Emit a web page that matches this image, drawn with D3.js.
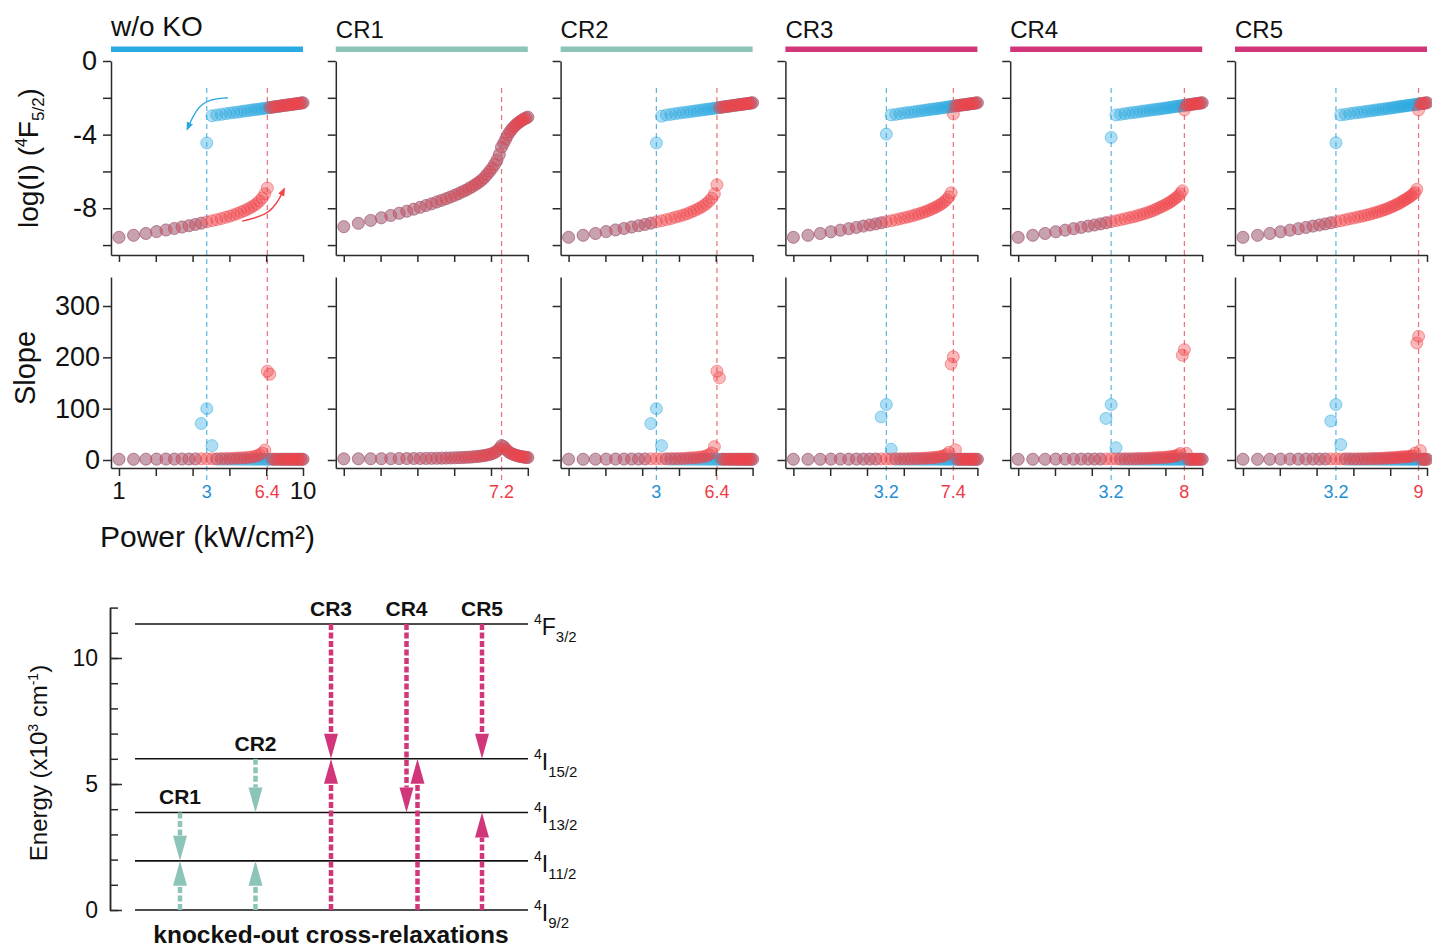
<!DOCTYPE html>
<html>
<head>
<meta charset="utf-8">
<script src="https://cdn.jsdelivr.net/npm/d3@7"></script>
<style>
  body { margin: 0; background: #fff; }
  svg { display: block; font-family: "Liberation Sans", Arial, Helvetica, sans-serif; }
</style>
</head>
<body>
<svg id="chart" width="1432" height="948"></svg>
<script>
// ---- data -------------------------------------------------------------

// excitation power (kW/cm2) of every sweep step
const power = [1, 1.2, 1.4, 1.6, 1.8, 2, 2.2, 2.4, 2.6, 2.8, 3, 3.2, 3.4, 3.6, 3.8, 4, 4.2, 4.4, 4.6, 4.8,
  5, 5.2, 5.4, 5.6, 5.8, 6, 6.2, 6.4, 6.6, 6.8, 7, 7.2, 7.4, 7.6, 7.8, 8, 8.2, 8.4, 8.6, 8.8,
  9, 9.2, 9.4, 9.6, 9.8, 10];
const powerTicks = [1, 1.585, 2.512, 3.981, 6.31, 10];

const panelNames = ["w/o KO", "CR1", "CR2", "CR3", "CR4", "CR5"];
const downThresholds = [3, null, 3, 3.2, 3.2, 3.2];
const upThresholds = [6.4, 7.2, 6.4, 7.4, 8, 9];

const logTicks = [0, -2, -4, -6, -8, -10];
const logTickLabels = [0, -4, -8];
const slopeTicks = [0, 100, 200, 300];

// log(I) of 4F5/2, forward (up) and backward (down) sweeps
const woKO_logUp = [-9.58, -9.47, -9.37, -9.27, -9.18, -9.10, -9.02, -8.95, -8.88, -8.81,
  -8.74, -8.68, -8.62, -8.56, -8.49, -8.43, -8.36, -8.29, -8.21, -8.13,
  -8.05, -7.96, -7.86, -7.75, -7.61, -7.44, -7.22, -6.90,
  -2.53, -2.51, -2.49, -2.47, -2.46, -2.44, -2.42, -2.41, -2.39, -2.38,
  -2.37, -2.35, -2.34, -2.32, -2.31, -2.30, -2.28, -2.27];
const woKO_logDown = [-9.58, -9.47, -9.37, -9.27, -9.18, -9.10, -9.02, -8.95, -8.88, -8.81,
  -4.45, -2.98,
  -2.93, -2.90, -2.86, -2.83, -2.80, -2.78, -2.75, -2.72,
  -2.70, -2.67, -2.65, -2.63, -2.61, -2.59, -2.57, -2.55, -2.53, -2.51,
  -2.49, -2.47, -2.46, -2.44, -2.42, -2.41, -2.39, -2.38, -2.37, -2.35,
  -2.34, -2.32, -2.31, -2.30, -2.28, -2.27];

// CR1 has no hysteresis: both sweeps follow the same curve
const cr1_log = [-9.00, -8.82, -8.66, -8.52, -8.39, -8.27, -8.16, -8.05, -7.95, -7.85,
  -7.76, -7.66, -7.57, -7.48, -7.39, -7.30, -7.21, -7.11, -7.02, -6.92,
  -6.82, -6.71, -6.60, -6.48, -6.34, -6.17, -6.00, -5.82, -5.62, -5.38,
  -5.08, -4.68, -4.46, -4.23, -4.01, -3.84, -3.70, -3.58, -3.48, -3.39,
  -3.32, -3.25, -3.19, -3.14, -3.09, -3.05];

const cr2_logUp = [-9.58, -9.47, -9.37, -9.27, -9.18, -9.10, -9.02, -8.95, -8.88, -8.81,
  -8.74, -8.68, -8.62, -8.56, -8.49, -8.43, -8.37, -8.30, -8.22, -8.14,
  -8.06, -7.97, -7.87, -7.76, -7.62, -7.45, -7.22, -6.72,
  -2.53, -2.51, -2.49, -2.47, -2.46, -2.44, -2.42, -2.41, -2.39, -2.38,
  -2.37, -2.35, -2.34, -2.32, -2.31, -2.30, -2.28, -2.27];
const cr2_logDown = [-9.58, -9.47, -9.37, -9.27, -9.18, -9.10, -9.02, -8.95, -8.88, -8.81,
  -4.45, -3.00,
  -2.93, -2.90, -2.86, -2.83, -2.80, -2.78, -2.75, -2.72,
  -2.70, -2.67, -2.65, -2.63, -2.61, -2.59, -2.57, -2.55, -2.53, -2.51,
  -2.49, -2.47, -2.46, -2.44, -2.42, -2.41, -2.39, -2.38, -2.37, -2.35,
  -2.34, -2.32, -2.31, -2.30, -2.28, -2.27];

const cr3_logUp = [-9.58, -9.47, -9.37, -9.28, -9.19, -9.11, -9.04, -8.97, -8.91, -8.85,
  -8.79, -8.73, -8.68, -8.63, -8.57, -8.52, -8.47, -8.42, -8.36, -8.31,
  -8.25, -8.19, -8.13, -8.06, -7.99, -7.92, -7.84, -7.75, -7.65, -7.53,
  -7.38, -7.16, -2.88,
  -2.44, -2.42, -2.41, -2.39, -2.38, -2.37, -2.35, -2.34, -2.32, -2.31, -2.30, -2.28, -2.27];
const cr3_logDown = [-9.58, -9.47, -9.37, -9.28, -9.19, -9.11, -9.04, -8.97, -8.91, -8.85,
  -8.79, -3.97,
  -2.93, -2.90, -2.86, -2.83, -2.80, -2.78, -2.75, -2.72,
  -2.70, -2.67, -2.65, -2.63, -2.61, -2.59, -2.57, -2.55, -2.53, -2.51,
  -2.49, -2.47, -2.46, -2.44, -2.42, -2.41, -2.39, -2.38, -2.37, -2.35,
  -2.34, -2.32, -2.31, -2.30, -2.28, -2.27];

const cr4_logUp = [-9.58, -9.47, -9.37, -9.28, -9.19, -9.11, -9.04, -8.97, -8.91, -8.85,
  -8.79, -8.73, -8.68, -8.63, -8.57,
  -8.52, -8.47, -8.42, -8.36, -8.31, -8.25, -8.19, -8.13, -8.06, -7.99,
  -7.92, -7.85, -7.78, -7.70, -7.62, -7.53, -7.44, -7.34, -7.21, -7.05,
  -2.66,
  -2.39, -2.38, -2.37, -2.35, -2.34, -2.32, -2.31, -2.30, -2.28, -2.27];
const cr4_logDown = [-9.58, -9.47, -9.37, -9.28, -9.19, -9.11, -9.04, -8.97, -8.91, -8.85,
  -8.79, -4.15,
  -2.93, -2.90, -2.86, -2.83, -2.80, -2.78, -2.75, -2.72,
  -2.70, -2.67, -2.65, -2.63, -2.61, -2.59, -2.57, -2.55, -2.53, -2.51,
  -2.49, -2.47, -2.46, -2.44, -2.42, -2.41, -2.39, -2.38, -2.37, -2.35,
  -2.34, -2.32, -2.31, -2.30, -2.28, -2.27];

const cr5_logUp = [-9.58, -9.47, -9.37, -9.28, -9.19, -9.11, -9.04, -8.97, -8.91, -8.85,
  -8.79, -8.73, -8.68, -8.63, -8.57,
  -8.53, -8.48, -8.44, -8.39, -8.35, -8.30, -8.25, -8.20, -8.15, -8.10,
  -8.05, -7.99, -7.93, -7.87, -7.81, -7.75, -7.68, -7.61, -7.54, -7.47,
  -7.40, -7.32, -7.24, -7.15, -6.97,
  -2.66,
  -2.32, -2.31, -2.30, -2.28, -2.27];
const cr5_logDown = [-9.58, -9.47, -9.37, -9.28, -9.19, -9.11, -9.04, -8.97, -8.91, -8.85,
  -8.79, -4.44,
  -2.93, -2.90, -2.86, -2.83, -2.80, -2.78, -2.75, -2.72,
  -2.70, -2.67, -2.65, -2.63, -2.61, -2.59, -2.57, -2.55, -2.53, -2.51,
  -2.49, -2.47, -2.46, -2.44, -2.42, -2.41, -2.39, -2.38, -2.37, -2.35,
  -2.34, -2.32, -2.31, -2.30, -2.28, -2.27];

// slope d log(I) / d log(P)
const woKO_slopeUp = [1.4, 1.4, 1.6, 1.7, 1.8, 1.8, 1.9, 1.9, 2.1, 2.3,
  2.2, 2.2, 2.3, 2.7, 2.8, 3.0, 3.4, 3.8, 4.2, 4.4,
  4.9, 5.7, 6.5, 8.1, 10.3, 13.4, 19.3, 173, 167, 1.6,
  1.4, 1.4, 1.4, 1.4, 1.4, 1.4, 1.4, 1.4, 1.4, 1.4, 1.4, 1.4, 1.4, 1.4, 1.4, 1.4];
const woKO_slopeDown = [1.4, 1.4, 1.6, 1.7, 1.8, 1.8, 1.9, 1.9, 2.1,
  71, 100, 28, 1.6,
  1.4, 1.4, 1.4, 1.4, 1.4, 1.4, 1.4, 1.4, 1.4, 1.4, 1.4, 1.4, 1.4, 1.4, 1.4, 1.4, 1.4,
  1.4, 1.4, 1.4, 1.4, 1.4, 1.4, 1.4, 1.4, 1.4, 1.4, 1.4, 1.4, 1.4, 1.4, 1.4, 1.4];

const cr1_slope = [2.2, 2.3, 2.4, 2.5, 2.6, 2.7, 2.8, 2.9, 3.0, 3.1,
  3.2, 3.4, 3.6, 3.8, 4.0, 4.2, 4.5, 4.8, 5.1, 5.5,
  6.0, 6.5, 7.1, 7.8, 8.6, 9.6, 10.8, 12.3, 14.5, 17.5,
  22, 28, 26, 21, 17, 14, 12, 10.5, 9.2, 8.2,
  7.3, 6.6, 6.0, 5.5, 5.1, 4.8];

const cr2_slopeUp = [1.4, 1.4, 1.6, 1.7, 1.8, 1.8, 1.9, 1.9, 2.1, 2.3,
  2.2, 2.2, 2.3, 2.7, 2.8, 2.9, 3.1, 3.8, 4.2, 4.4,
  4.9, 5.7, 6.5, 8.1, 10.3, 13.8, 26, 173, 160, 1.6,
  1.4, 1.4, 1.4, 1.4, 1.4, 1.4, 1.4, 1.4, 1.4, 1.4, 1.4, 1.4, 1.4, 1.4, 1.4, 1.4];
const cr2_slopeDown = [1.4, 1.4, 1.6, 1.7, 1.8, 1.8, 1.9, 1.9, 2.1,
  71, 100, 28, 2.0,
  1.4, 1.4, 1.4, 1.4, 1.4, 1.4, 1.4, 1.4, 1.4, 1.4, 1.4, 1.4, 1.4, 1.4, 1.4, 1.4, 1.4,
  1.4, 1.4, 1.4, 1.4, 1.4, 1.4, 1.4, 1.4, 1.4, 1.4, 1.4, 1.4, 1.4, 1.4, 1.4, 1.4];

const cr3_slopeUp = [1.4, 1.4, 1.5, 1.7, 1.8, 1.7, 1.8, 1.8, 1.8, 1.9,
  2.1, 2.0, 2.0, 2.3, 2.4, 2.3, 2.4, 2.8, 2.9, 3.0,
  3.4, 3.6, 4.0, 4.5, 4.7, 5.2, 6.1, 7.0, 8.4, 10.5,
  14.9, 187, 201, 20, 1.3, 1.4, 1.4, 1.4, 1.4, 1.4,
  1.4, 1.4, 1.4, 1.4, 1.4, 1.4];
const cr3_slopeDown = [1.4, 1.4, 1.5, 1.7, 1.8, 1.7, 1.8, 1.8, 1.8, 1.9,
  84, 108, 21,
  1.4, 1.4, 1.4, 1.4, 1.4, 1.4, 1.4, 1.4, 1.4, 1.4, 1.4, 1.4, 1.4, 1.4, 1.4, 1.4, 1.4,
  1.4, 1.4, 1.4, 1.4, 1.4, 1.4, 1.4, 1.4, 1.4, 1.4, 1.4, 1.4, 1.4, 1.4, 1.4, 1.4];

const cr4_slopeUp = [1.4, 1.4, 1.5, 1.7, 1.8, 1.7, 1.8, 1.8, 1.8, 1.9,
  2.1, 2.0, 2.0, 2.3, 2.4,
  2.3, 2.4, 2.8, 2.9, 3.0, 3.4, 3.6, 4.0, 4.5, 4.7,
  4.8, 5.0, 5.5, 6.1, 6.6, 7.3, 7.9, 9.8, 12.7,
  204, 215, 13, 1.2,
  1.4, 1.4, 1.4, 1.4, 1.4, 1.4, 1.4, 1.4];
const cr4_slopeDown = [1.4, 1.4, 1.5, 1.7, 1.8, 1.7, 1.8, 1.8, 1.8, 1.9,
  81, 108, 24,
  1.4, 1.4, 1.4, 1.4, 1.4, 1.4, 1.4, 1.4, 1.4, 1.4, 1.4, 1.4, 1.4, 1.4, 1.4, 1.4, 1.4,
  1.4, 1.4, 1.4, 1.4, 1.4, 1.4, 1.4, 1.4, 1.4, 1.4, 1.4, 1.4, 1.4, 1.4, 1.4, 1.4];

const cr5_slopeUp = [1.4, 1.4, 1.5, 1.7, 1.8, 1.7, 1.8, 1.8, 1.8, 1.9,
  2.1, 2.0, 2.0, 2.3, 2.4,
  2.1, 2.2, 2.3, 2.4, 2.5, 2.9, 3.0, 3.1, 3.2, 3.3,
  3.8, 4.3, 4.4, 4.6, 4.7, 5.2, 5.8, 6.0, 6.1, 6.3,
  6.9, 7.5, 8.2, 13.4,
  228, 241, 18.5, 1.1,
  1.4, 1.4, 1.4];
const cr5_slopeDown = [1.4, 1.4, 1.5, 1.7, 1.8, 1.7, 1.8, 1.8, 1.8, 1.9,
  76, 108, 30,
  1.4, 1.4, 1.4, 1.4, 1.4, 1.4, 1.4, 1.4, 1.4, 1.4, 1.4, 1.4, 1.4, 1.4, 1.4, 1.4, 1.4,
  1.4, 1.4, 1.4, 1.4, 1.4, 1.4, 1.4, 1.4, 1.4, 1.4, 1.4, 1.4, 1.4, 1.4, 1.4, 1.4];

// hysteresis direction hints in the w/o KO panel, [power, log(I)]
const sweepArrowDown = [[3.9, -2.0], [2.76, -2.1], [2.35, -3.7]];
const sweepArrowUp = [[4.66, -8.7], [6.79, -8.32], [7.9, -6.95]];

// energy level diagram (x10^3 cm-1)
const levelTerms = ["I", "I", "I", "I", "F"];
const levelJ = ["9/2", "11/2", "13/2", "15/2", "3/2"];
const levelEnergies = [0, 1.95, 3.87, 6.0, 11.35];
const energyTicks = [0, 1, 2, 3, 4, 5, 6, 7, 8, 9, 10, 11, 12];
const energyTickLabels = [0, 5, 10];

const crLabels = ["CR1", "CR2", "CR3", "CR4", "CR5"];
const crDown = [[2, 1], [3, 2], [4, 3], [4, 2], [4, 3]];   // [from level, to level]
const crUp = [[0, 1], [0, 1], [0, 3], [0, 3], [0, 2]];

// ---- build ------------------------------------------------------------

const panels = panelNames.map((name, i) => ({
    name,
    down: downThresholds[i],
    up: upThresholds[i],
    logUp: [woKO_logUp, cr1_log, cr2_logUp, cr3_logUp, cr4_logUp, cr5_logUp][i],
    logDown: [woKO_logDown, cr1_log, cr2_logDown, cr3_logDown, cr4_logDown, cr5_logDown][i],
    slopeUp: [woKO_slopeUp, cr1_slope, cr2_slopeUp, cr3_slopeUp, cr4_slopeUp, cr5_slopeUp][i],
    slopeDown: [woKO_slopeDown, cr1_slope, cr2_slopeDown, cr3_slopeDown, cr4_slopeDown, cr5_slopeDown][i]
}));

const RED = "#f0444a";
const BLUE = "#2aa7df";
const RED_TXT = "#ef3b45";
const BLUE_TXT = "#1e8ed6";
const TEAL = "#8dc4b9";
const MAGENTA = "#d1367b";
const AXIS = "#2a2a2a";

const svg = d3.select("#chart");
svg.append("rect").attr("width", 1432).attr("height", 948).attr("fill", "#fff");

const defs = svg.append("defs");
[["head-blue", BLUE], ["head-red", RED]].forEach(([id, c]) => {
    defs.append("marker").attr("id", id)
        .attr("viewBox", "0 0 10 10").attr("refX", 8).attr("refY", 5)
        .attr("markerWidth", 6).attr("markerHeight", 6).attr("orient", "auto")
        .append("path").attr("d", "M0,1 L10,5 L0,9 Z").attr("fill", c);
});

function barColor(name) {
    if (name === "w/o KO") return "#29abe2";
    if (name === "CR1" || name === "CR2") return TEAL;
    return MAGENTA;
}

function styleAxis(sel, fontSize) {
    sel.attr("font-family", null).attr("font-size", null);
    sel.select(".domain").attr("stroke", AXIS).attr("stroke-width", 1.5);
    sel.selectAll(".tick line").attr("stroke", AXIS).attr("stroke-width", 1.5);
    sel.selectAll(".tick text").attr("fill", "#111").attr("font-size", fontSize);
}

/**
 * Scatter one sweep as semi-transparent circles.
 */
function drawSweep(g, x, y, values, color) {
    g.append("g").selectAll("circle")
        .data(power.map((P, k) => [P, values[k]]))
        .join("circle")
        .attr("cx", d => x(d[0]))
        .attr("cy", d => y(d[1]))
        .attr("r", 6)
        .attr("fill", color).attr("fill-opacity", 0.38)
        .attr("stroke", color).attr("stroke-opacity", 0.5).attr("stroke-width", 1);
}

const panelLeft = d3.scaleLinear().domain([0, 5]).range([111, 1235]);
const yLog = d3.scaleLinear().domain([-10.54, 0]).range([255, 61]);
const ySlope = d3.scaleLinear().domain([-15.6, 356.5]).range([468, 277]);

panels.forEach((p, i) => {
    const x0 = panelLeft(i);
    const x = d3.scaleLog().domain([0.905, 10]).range([x0, x0 + 192]);
    const g = svg.append("g");

    // title and colour bar
    g.append("text").attr("x", x0).attr("y", i === 0 ? 36 : 38)
        .attr("font-size", i === 0 ? 28 : 24).attr("fill", "#111").text(p.name);
    g.append("rect").attr("x", x0).attr("y", 46.5).attr("width", 192).attr("height", 5.5)
        .attr("fill", barColor(p.name));

    // threshold guides
    const guides = [];
    if (p.down != null) guides.push([p.down, "#5cb4e4", BLUE_TXT]);
    guides.push([p.up, "#ec7177", RED_TXT]);
    guides.forEach(([v, c]) => {
        g.append("line").attr("x1", x(v)).attr("x2", x(v)).attr("y1", 88).attr("y2", 482)
            .attr("stroke", c).attr("stroke-width", 1.2).attr("stroke-dasharray", "5,4");
    });

    // log(I) panel
    g.append("g").attr("transform", `translate(${x0},0)`)
        .call(d3.axisLeft(yLog).tickValues(logTicks).tickSize(8).tickSizeOuter(0).tickPadding(6)
            .tickFormat(d => (i === 0 && logTickLabels.includes(d)) ? String(d) : ""))
        .call(s => styleAxis(s, 27));
    g.append("g").attr("transform", "translate(0,255)")
        .call(d3.axisBottom(x).tickValues(powerTicks).tickSize(7).tickSizeOuter(0).tickFormat(""))
        .call(s => styleAxis(s, 20));

    drawSweep(g, x, yLog, p.logDown, BLUE);
    drawSweep(g, x, yLog, p.logUp, RED);

    // slope panel
    g.append("g").attr("transform", `translate(${x0},0)`)
        .call(d3.axisLeft(ySlope).tickValues(slopeTicks).tickSize(8).tickSizeOuter(0).tickPadding(3)
            .tickFormat(d => i === 0 ? String(d) : ""))
        .call(s => styleAxis(s, 27));
    g.append("g").attr("transform", "translate(0,468)")
        .call(d3.axisBottom(x).tickValues(powerTicks).tickSize(8).tickSizeOuter(0).tickFormat(""))
        .call(s => styleAxis(s, 20));

    drawSweep(g, x, ySlope, p.slopeDown, BLUE);
    drawSweep(g, x, ySlope, p.slopeUp, RED);

    // power labels under the slope panel
    if (i === 0) {
        [1, 10].forEach(v => {
            g.append("text").attr("x", x(v)).attr("y", 499).attr("text-anchor", "middle")
                .attr("font-size", 24).attr("fill", "#111").text(v);
        });
    }
    guides.forEach(([v, , tc]) => {
        g.append("text").attr("x", x(v)).attr("y", 498).attr("text-anchor", "middle")
            .attr("font-size", 18).attr("fill", tc).text(v);
    });

    // sweep direction arrows
    if (i === 0) {
        const curve = d3.line().x(d => x(d[0])).y(d => yLog(d[1])).curve(d3.curveBasis);
        g.append("path").attr("d", curve(sweepArrowDown)).attr("fill", "none")
            .attr("stroke", BLUE).attr("stroke-width", 1.4).attr("marker-end", "url(#head-blue)");
        g.append("path").attr("d", curve(sweepArrowUp)).attr("fill", "none")
            .attr("stroke", RED).attr("stroke-width", 1.4).attr("marker-end", "url(#head-red)");
    }
});

// axis titles of the top figure
const logLabel = svg.append("text").attr("transform", "translate(38,158) rotate(-90)")
    .attr("text-anchor", "middle").attr("font-size", 28).attr("fill", "#111");
logLabel.append("tspan").text("log(I) (");
logLabel.append("tspan").attr("font-size", 16).attr("dy", -11).text("4");
logLabel.append("tspan").attr("dy", 11).text("F");
logLabel.append("tspan").attr("font-size", 17).attr("dy", 6).text("5/2");
logLabel.append("tspan").attr("dy", -6).text(")");

svg.append("text").attr("transform", "translate(35,368) rotate(-90)")
    .attr("text-anchor", "middle").attr("font-size", 29).attr("fill", "#111").text("Slope");

svg.append("text").attr("x", 100).attr("y", 547).attr("font-size", 30).attr("fill", "#111")
    .text("Power (kW/cm²)");

// ---- energy level diagram ---------------------------------------------

const yE = d3.scaleLinear().domain([0, 12]).range([910, 607.6]);
const colX = d3.scalePoint().domain(crLabels).range([180, 482]);

const eAxis = svg.append("g").attr("transform", "translate(110,0)");
eAxis.append("g")
    .call(d3.axisLeft(yE).tickValues(energyTicks).tickSize(-8).tickSizeOuter(0).tickFormat(""))
    .call(s => styleAxis(s, 22));
eAxis.append("g")
    .call(d3.axisLeft(yE).tickValues(energyTickLabels).tickSize(-12).tickSizeOuter(0).tickPadding(12)
        .tickFormat(d => String(d)))
    .call(s => styleAxis(s, 23));

const eLabel = svg.append("text").attr("transform", "translate(47,763) rotate(-90)")
    .attr("text-anchor", "middle").attr("font-size", 24).attr("fill", "#111");
eLabel.append("tspan").text("Energy (x10");
eLabel.append("tspan").attr("font-size", 14).attr("dy", -9).text("3");
eLabel.append("tspan").attr("dy", 9).text(" cm");
eLabel.append("tspan").attr("font-size", 14).attr("dy", -9).text("-1");
eLabel.append("tspan").attr("dy", 9).text(")");

// levels
levelEnergies.forEach((e, k) => {
    const y = yE(e);
    svg.append("line").attr("x1", 135).attr("x2", 528).attr("y1", y).attr("y2", y)
        .attr("stroke", "#111").attr("stroke-width", 1.6);
    const t = svg.append("text").attr("x", 534).attr("y", y + 11).attr("fill", "#111").attr("font-size", 23);
    t.append("tspan").attr("font-size", 14).attr("dy", -11).text("4");
    t.append("tspan").attr("dy", 11).text(levelTerms[k]);
    t.append("tspan").attr("font-size", 15).attr("dy", 7).text(levelJ[k]);
});

/**
 * Dashed transition arrow with a filled head whose tip sits on the target level.
 */
function drawTransition(x, fromLevel, toLevel, color) {
    const y1 = yE(levelEnergies[fromLevel]);
    const y2 = yE(levelEnergies[toLevel]);
    const dir = y2 > y1 ? 1 : -1;
    const headLen = 25, headHalf = 7;
    svg.append("line").attr("x1", x).attr("x2", x).attr("y1", y1).attr("y2", y2 - dir * headLen)
        .attr("stroke", color).attr("stroke-width", 4.5).attr("stroke-dasharray", "6,2.5");
    svg.append("path")
        .attr("d", `M${x},${y2} L${x - headHalf},${y2 - dir * headLen} L${x + headHalf},${y2 - dir * headLen} Z`)
        .attr("fill", color);
}

crLabels.forEach((name, k) => {
    const c = k < 2 ? TEAL : MAGENTA;
    const cx = colX(name);
    const [dFrom, dTo] = crDown[k];
    const [uFrom, uTo] = crUp[k];
    // when the two arrows would overlap (CR4), set the upward one beside the other
    const upShift = levelEnergies[uTo] > levelEnergies[dTo] ? 11 : 0;
    drawTransition(cx, dFrom, dTo, c);
    drawTransition(cx + upShift, uFrom, uTo, c);
    svg.append("text").attr("x", cx).attr("y", yE(levelEnergies[dFrom]) - 8)
        .attr("text-anchor", "middle").attr("font-size", 21).attr("font-weight", "bold")
        .attr("fill", "#111").text(name);
});

svg.append("text").attr("x", 331).attr("y", 943).attr("text-anchor", "middle")
    .attr("font-size", 24.5).attr("font-weight", "bold").attr("fill", "#111")
    .text("knocked-out cross-relaxations");
</script>
</body>
</html>
